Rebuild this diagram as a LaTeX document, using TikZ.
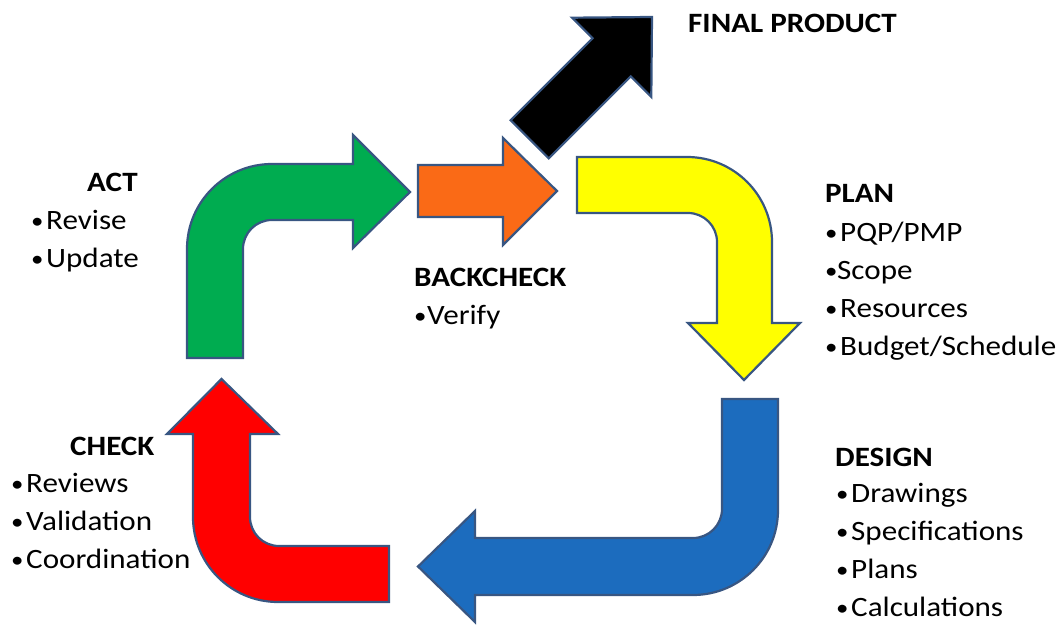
\documentclass[tikz,border=0pt]{standalone}
\usepackage{fontspec}
\setmainfont{Carlito}[FakeStretch=1.11]
\definecolor{outline}{RGB}{56,86,130}
\definecolor{actgreen}{RGB}{0,172,80}
\definecolor{backorange}{RGB}{250,106,22}
\definecolor{planyellow}{RGB}{255,255,0}
\definecolor{designblue}{RGB}{28,108,190}
\definecolor{checkred}{RGB}{255,0,0}
\newcommand{\dotmark}{\raisebox{1.5pt}{\scalebox{0.8}{\textbullet}}}
\newcommand{\bul}[1]{\makebox[15pt][l]{\dotmark}#1}

\begin{document}
\begin{tikzpicture}[x=1pt, y=1pt, line join=miter,
        every node/.style={inner sep=0pt, anchor=base west, font=\fontsize{28}{38}\selectfont}]
      \tikzstyle{arrowshape} = [draw=outline, line width=2.2pt]
      \tikzstyle{head} = [font=\bfseries\fontsize{28}{38}\selectfont]
      \useasboundingbox (0,0) rectangle (1063,624);
      % the cycle of bent arrows
      \filldraw[arrowshape, fill=actgreen] (187,266) -- (187,375) arc (180:90:85) -- (353,460) -- (353,489)
        -- (410,432) -- (353,376) -- (353,404) -- (272,404) arc (90:180:29) -- (243,266) -- cycle;
      \filldraw[arrowshape, fill=backorange] (418,407) -- (418,459) -- (503,459) -- (503,486)
        -- (557,433) -- (503,379) -- (503,407) -- cycle;
      \filldraw[arrowshape, fill=planyellow] (577,467) -- (687,467) arc (90:0:85) -- (772,301) -- (800,301)
        -- (744,244) -- (688,301) -- (717,301) -- (717,382) arc (0:90:29) -- (577,411) -- cycle;
      \filldraw[arrowshape, fill=designblue] (722,225) -- (778,225) -- (778,114) arc (0:-90:85) -- (475,29) -- (475,2)
        -- (418,57.5) -- (475,113) -- (475,86) -- (693,86) arc (-90:0:29) -- cycle;
      \filldraw[arrowshape, fill=checkred] (389,22) -- (389,78) -- (279,78) arc (270:180:29) -- (250,190) -- (278,190)
        -- (221.5,245) -- (167,190) -- (193,190) -- (193,107) arc (180:270:85) -- cycle;
      \begin{scope}[shift={(652,607)}, rotate=45]
        \filldraw[arrowshape, fill=black] (0,0) -- (-57,56) -- (-57,27) -- (-173,27) -- (-173,-27)
          -- (-57,-27) -- (-57,-56) -- cycle;
      \end{scope}
      % labels
      \node (final) [head] at (688,591) {FINAL PRODUCT};
      \node (plan) [head] at (825,421) {PLAN};
      \node (planlist) at (825,382) {\begin{tabular}[t]{@{}l@{}}\bul{PQP/PMP}\\
        \makebox[12pt][l]{\dotmark}Scope\\ \bul{Resources}\\ \bul{Budget/Schedule}\end{tabular}};
      \node (design) [head] at (835,157) {DESIGN};
      \node (designlist) at (836,121) {\begin{tabular}[t]{@{}l@{}}\bul{Drawings}\\ \bul{Specifications}\\
        \bul{Plans}\\ \bul{Calculations}\end{tabular}};
      \node (check) [head] at (70,168) {CHECK};
      \node (checklist) at (11,131) {\begin{tabular}[t]{@{}l@{}}\bul{Reviews}\\ \bul{Validation}\\
        \bul{Coordination}\end{tabular}};
      \node (act) [head] at (87,432) {ACT};
      \node (actlist) at (31,394) {\begin{tabular}[t]{@{}l@{}}\bul{Revise}\\ \bul{Update}\end{tabular}};
      \node (backcheck) [head] at (414,337) {BACKCHECK};
      \node (backlist) at (414,299) {\begin{tabular}[t]{@{}l@{}}\makebox[13pt][l]{\dotmark}Verify\end{tabular}};
    \end{tikzpicture}
\end{document}
